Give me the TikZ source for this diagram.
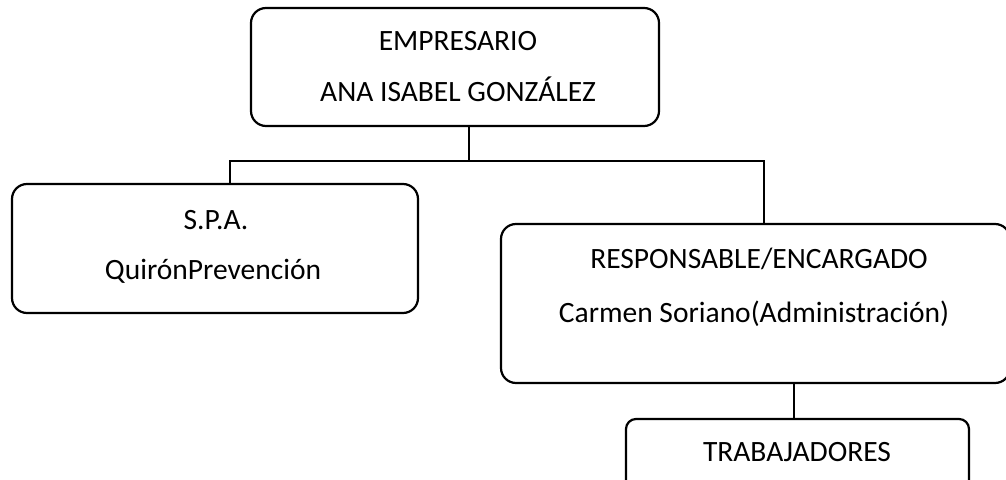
\documentclass[tikz,border=0pt]{standalone}
\usepackage{fontspec}
\setmainfont{Carlito}
\begin{document}
\begin{tikzpicture}[x=0.5pt,y=-0.5pt,
  box/.style={draw, line width=1.1pt, rounded corners=7.5pt, inner sep=0pt},
  smallbox/.style={draw, line width=1.1pt, rounded corners=5pt, inner sep=0pt},
  lbl/.style={anchor=base, inner sep=0pt, font=\fontsize{14.75pt}{17pt}\selectfont},
  conn/.style={line width=1.1pt}]
\useasboundingbox (0,0) rectangle (1006,480);
\clip (0,0) rectangle (1006,480);
% boxes
\node[box, minimum width=204pt, minimum height=59pt] (top) at (455,67) {};
\node[box, minimum width=203pt, minimum height=64.5pt] (left) at (215,248.5) {};
\node[box, minimum width=254.5pt, minimum height=79.5pt] (right) at (755.5,303.5) {};
\node[smallbox, minimum width=171.5pt, minimum height=40pt] (bottom) at (797.5,459) {};
% texts
\node[lbl] (t1) at (458,50.5) {EMPRESARIO};
\node[lbl] (t2) at (458,102) {ANA ISABEL GONZÁLEZ};
\node[lbl] (l1) at (216,229.5) {S.P.A.};
\node[lbl] (l2) at (213,279.5) {QuirónPrevención};
\node[lbl] (r1) at (759,268.5) {RESPONSABLE/ENCARGADO};
\node[lbl] (r2) at (754,322.5) {Carmen Soriano(Administración)};
\node[lbl] (b1) at (797,461.5) {TRABAJADORES};
% connectors
\coordinate (j) at (469,161);
\coordinate (jl) at (230,161);
\coordinate (jr) at (764,161);
\coordinate (jb) at (794,400);
\draw[conn] (top.south -| j) -- (j);
\draw[conn] (jl |- left.north) -- (jl) -- (jr) -- (jr |- right.north);
\draw[conn] (jb |- right.south) -- (jb |- bottom.north);
\end{tikzpicture}
\end{document}
